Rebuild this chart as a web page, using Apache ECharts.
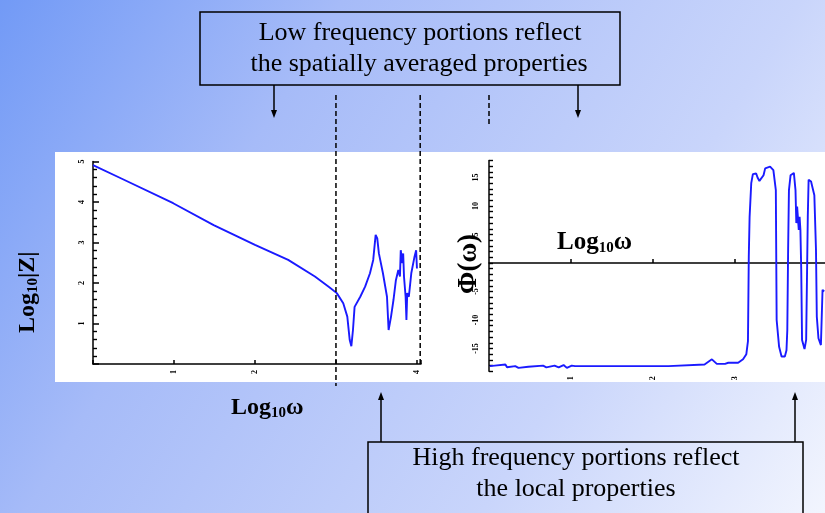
<!DOCTYPE html>
<html><head><meta charset="utf-8">
<script src="https://cdn.jsdelivr.net/npm/echarts@6/dist/echarts.min.js"></script>
<style>html,body{margin:0;padding:0;}#c{width:825px;height:513px;}</style>
</head><body><div id="c"></div>
<script>
// Left panel: Log10|Z| vs Log10 ω
const magX = [0,0.35,0.99,1.49,2.0,2.41,2.74,2.91,3.01,3.09,3.14,3.17,3.19,3.21,3.23,3.30,3.36,3.42,3.46,3.49,3.51,3.53,3.58,3.63,3.65,3.68,3.71,3.74,3.77,3.79,3.80,3.82,3.83,3.84,3.86,3.87,3.88,3.90,3.93,3.97,3.99,4.0];
const magY = [4.91,4.58,3.97,3.43,2.94,2.57,2.16,1.91,1.75,1.50,1.17,0.59,0.44,0.84,1.41,1.66,1.91,2.24,2.57,3.19,3.10,2.73,2.24,1.66,0.84,1.17,1.58,2.07,2.32,2.16,2.81,2.49,2.73,2.16,1.66,1.09,1.75,1.66,2.24,2.65,2.81,2.36];
// Right panel: Φ(ω) vs Log10 ω
const phX = [0.01,0.07,0.2,0.22,0.32,0.36,0.48,0.66,0.70,0.80,0.85,0.91,0.95,1.01,1.05,2.19,2.21,2.63,2.72,2.78,2.88,2.92,3.04,3.10,3.14,3.16,3.17,3.18,3.20,3.22,3.26,3.28,3.30,3.35,3.37,3.43,3.47,3.50,3.51,3.54,3.57,3.61,3.63,3.64,3.65,3.66,3.68,3.72,3.74,3.75,3.76,3.78,3.79,3.80,3.81,3.82,3.84,3.85,3.87,3.89,3.90,3.93,3.94,3.97,3.99,4.00,4.02,4.05,4.07,4.09];
const phY = [-1.81,-1.80,-1.78,-1.83,-1.81,-1.84,-1.82,-1.80,-1.83,-1.80,-1.83,-1.79,-1.84,-1.80,-1.81,-1.81,-1.79,-1.78,-1.69,-1.77,-1.77,-1.75,-1.75,-1.69,-1.60,-1.37,0.11,0.81,1.40,1.56,1.57,1.49,1.44,1.54,1.66,1.69,1.63,1.28,-1.0,-1.47,-1.64,-1.64,-1.53,-1.18,0.23,1.28,1.54,1.58,1.28,0.70,0.99,0.58,0.81,0.58,-0.12,-1.35,-1.35,-1.51,-1.35,0.81,1.46,1.43,1.37,1.19,0.23,-0.94,-1.32,-1.44,-0.47,-0.5];
const magTicks = [1,2,4];
const magYTicks = [1,2,3,4,5];
const phYTicks = [-1.5,-1,-0.5,0.5,1,1.5];
const phXTicks = [1,2,3];
const topText = ['Low frequency portions reflect','the spatially averaged properties'];
const botText = ['High frequency portions reflect','the local properties'];

const chart = echarts.init(document.getElementById('c'), null, {renderer:'canvas'});
const serif = 'Liberation Serif';
const pair = (xs, ys) => xs.map((x,i)=>[x, ys[i]]);
const tickLabel = {fontSize: 8, color:'#000', fontFamily: serif, fontWeight:'bold', rotate: 90};
const axisLineStyle = {color:'#000', width:1.5};

let minorY = [];
for (let v = -1.9; v <= 1.8001; v += 0.1) minorY.push(Math.round(v*10)/10);

const option = {
  animation: false,
  backgroundColor: {type:'linear', x:0, y:0, x2:1, y2:1,
    colorStops:[{offset:0,color:'#729af6'},{offset:0.3,color:'#a6bbf8'},{offset:0.7,color:'#c9d5fb'},{offset:1,color:'#f2f5fe'}]},
  grid: [
    {left:93, right:404, top:161.5, bottom:149},
    {left:489, right:0, top:160.4, bottom:141.7}
  ],
  xAxis: [
    {gridIndex:0, type:'value', min:0, max:4.05, interval:1,
     axisLine:{lineStyle:axisLineStyle}, axisTick:{inside:true, length:4, lineStyle:axisLineStyle},
     splitLine:{show:false},
     axisLabel:{customValues: magTicks, ...tickLabel, margin:6}},
    {gridIndex:1, type:'value', min:0, max:4.1, interval:1,
     axisLine:{onZero:true, lineStyle:axisLineStyle}, axisTick:{inside:true, length:4, lineStyle:axisLineStyle, customValues: phXTicks},
     splitLine:{show:false},
     axisLabel:{customValues: phXTicks, ...tickLabel, margin:5}}
  ],
  yAxis: [
    {gridIndex:0, type:'value', min:0, max:5, interval:1,
     axisLine:{lineStyle:axisLineStyle}, axisTick:{inside:true, length:6, lineStyle:axisLineStyle},
     minorTick:{show:true, splitNumber:5, length:4, lineStyle:{color:'#000', width:1.4}},
     splitLine:{show:false}, minorSplitLine:{show:false},
     axisLabel:{customValues: magYTicks, ...tickLabel, margin:7}},
    {gridIndex:1, type:'value', min:-1.9, max:1.8,
     axisLine:{onZero:false, lineStyle:axisLineStyle},
     axisTick:{inside:true, length:4, customValues: minorY, lineStyle:{color:'#000', width:1.4}},
     splitLine:{show:false},
     axisLabel:{customValues: phYTicks, ...tickLabel, margin:9,
       formatter: v => (v < 0 ? '-' : '') + String(Math.round(Math.abs(v)*10))}}
  ],
  series: [
    {type:'line', xAxisIndex:0, yAxisIndex:0, data: pair(magX, magY), showSymbol:false, z:5,
     lineStyle:{color:'#1a1aff', width:1.9}},
    {type:'line', xAxisIndex:1, yAxisIndex:1, data: pair(phX, phY), showSymbol:false, z:5,
     lineStyle:{color:'#1a1aff', width:1.9}}
  ]
};
chart.setOption(option);

const p3 = chart.convertToPixel({gridIndex:0}, [3, 0]);
const p4 = chart.convertToPixel({gridIndex:0}, [4.04, 0]);
const p0r = chart.convertToPixel({gridIndex:1}, [0, 0]);
const dash = {stroke:'#000', lineWidth:1.5, lineDash:[5,3]};
const arrowHead = (x, y, dir) => ({type:'polygon', z:20,
  shape:{points: dir>0 ? [[x-3,y-8],[x+3,y-8],[x,y]] : [[x-3,y+8],[x+3,y+8],[x,y]]},
  style:{fill:'#000'}});
const big = {fontSize:24, fontWeight:'bold', fontFamily:serif, fill:'#000'};
const bigR = {fontSize:25, fontWeight:'bold', fontFamily:serif, fill:'#000'};
const sub = {fontSize:15, fontWeight:'bold', fontFamily:serif, padding:[12,0,0,0], fill:'#000'};
const boxFont = '26px "Liberation Serif"';

chart.setOption({graphic: [
  {type:'rect', z:-10, silent:true, shape:{x:55, y:152, width:770, height:230}, style:{fill:'#fff'}},
  // top box
  {type:'rect', z:10, shape:{x:200, y:12, width:420, height:73}, style:{fill:'none', stroke:'#000', lineWidth:1.5}},
  {type:'text', z:10, x:420, y:33, style:{text:topText[0], font:boxFont, fill:'#000', align:'center', verticalAlign:'middle'}},
  {type:'text', z:10, x:419, y:64, style:{text:topText[1], font:boxFont, fill:'#000', align:'center', verticalAlign:'middle'}},
  // bottom box
  {type:'rect', z:10, shape:{x:368, y:442, width:435, height:80}, style:{fill:'none', stroke:'#000', lineWidth:1.5}},
  {type:'text', z:10, x:576, y:458, style:{text:botText[0], font:boxFont, fill:'#000', align:'center', verticalAlign:'middle'}},
  {type:'text', z:10, x:576, y:489, style:{text:botText[1], font:boxFont, fill:'#000', align:'center', verticalAlign:'middle'}},
  // arrows
  {type:'line', z:20, shape:{x1:274, y1:85, x2:274, y2:112}, style:{stroke:'#000', lineWidth:1.5}},
  arrowHead(274, 118, 1),
  {type:'line', z:20, shape:{x1:578, y1:85, x2:578, y2:112}, style:{stroke:'#000', lineWidth:1.5}},
  arrowHead(578, 118, 1),
  {type:'line', z:20, shape:{x1:381, y1:442, x2:381, y2:398}, style:{stroke:'#000', lineWidth:1.5}},
  arrowHead(381, 392, -1),
  {type:'line', z:20, shape:{x1:795, y1:442, x2:795, y2:398}, style:{stroke:'#000', lineWidth:1.5}},
  arrowHead(795, 392, -1),
  // dashed lines
  {type:'line', z:20, shape:{x1:p3[0], y1:95, x2:p3[0], y2:386}, style:dash},
  {type:'line', z:20, shape:{x1:p4[0], y1:95, x2:p4[0], y2:366}, style:dash},
  {type:'line', z:20, shape:{x1:p0r[0], y1:95, x2:p0r[0], y2:125}, style:dash},
  // axis titles
  {type:'text', z:10, x:14, y:333, rotation:Math.PI/2,
   style:{text:'{b|Log}{s|10}{b||Z|}', rich:{b:big, s:sub}}},
  {type:'text', z:10, x:231, y:394,
   style:{text:'{b|Log}{s|10}{b|ω}', rich:{b:big, s:sub}}},
  {type:'text', z:10, x:557, y:229,
   style:{text:'{b|Log}{s|10}{b|ω}', rich:{b:bigR, s:sub}}},
  {type:'text', z:10, x:456, y:294, rotation:Math.PI/2,
   style:{text:'Φ(ω)', font:'bold 27px "Liberation Serif"', fill:'#000'}}
]});
</script></body></html>
